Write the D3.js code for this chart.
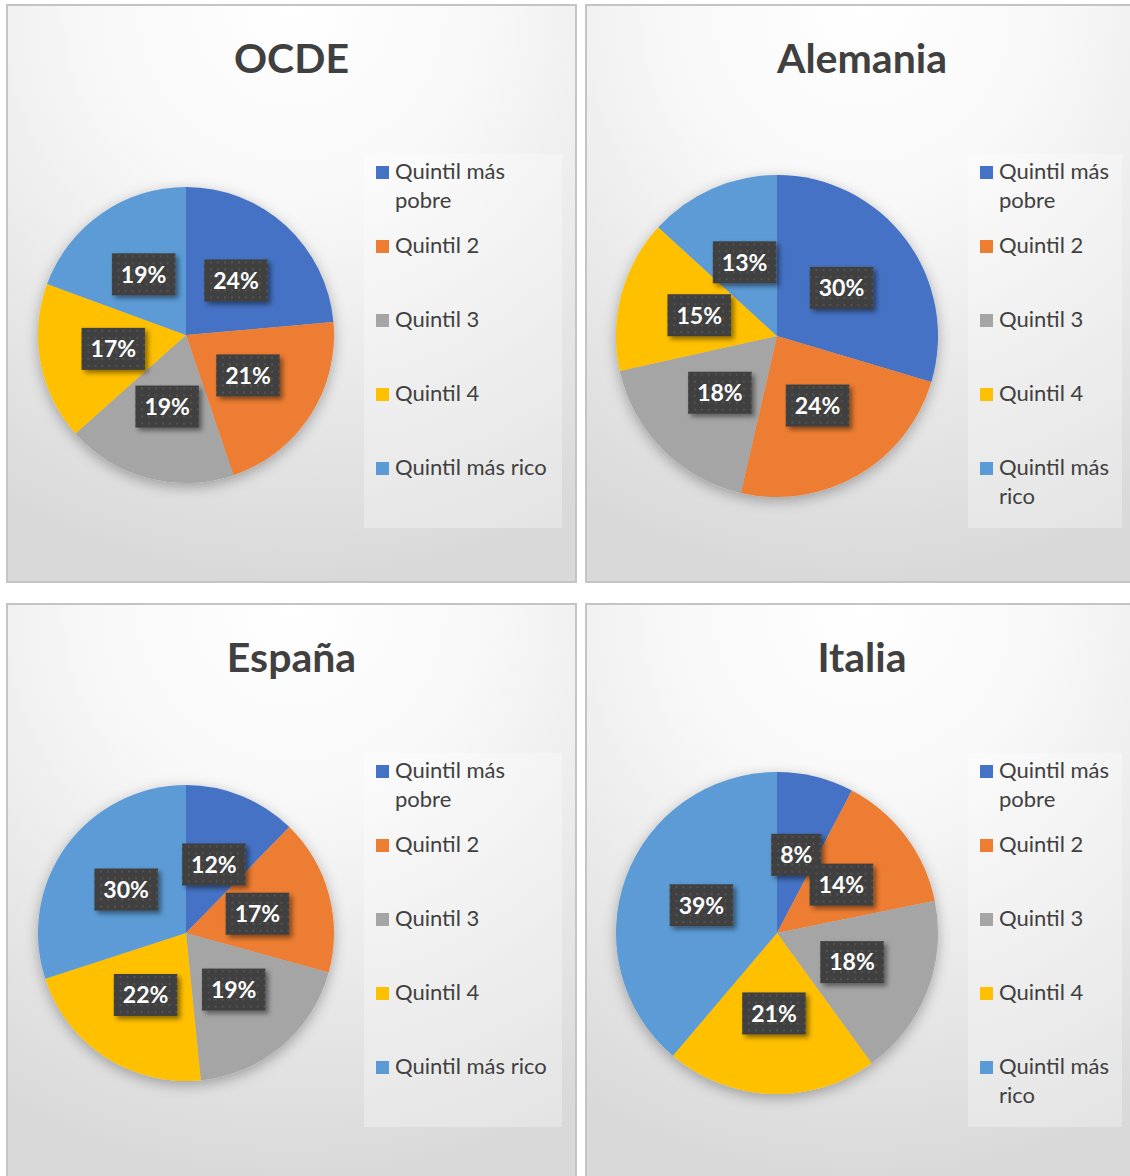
<!DOCTYPE html>
<html>
<head>
<meta charset="utf-8">
<script src="https://cdn.jsdelivr.net/npm/d3@7"></script>
<style>
  body { margin: 0; background: #fff; }
  svg { display: block; font-family: Lato, "Open Sans", sans-serif; }
</style>
</head>
<body>
<div class="chart"></div>
<script>
let categories = ["Quintil más pobre", "Quintil 2", "Quintil 3", "Quintil 4", "Quintil más rico"]
let titles = ["OCDE", "Alemania", "España", "Italia"]
// shares in %; labels show them rounded
let ocde = [23.6, 21.2, 18.6, 17.2, 19.4]
let alemania = [29.6, 24.0, 17.9, 15.3, 13.2]
let espana = [12.3, 17.0, 19.1, 21.6, 30.0]
let italia = [7.7, 14.1, 18.2, 21.2, 38.8]
let colors = ["#4472C4", "#ED7D31", "#A5A5A5", "#FFC000", "#5B9BD5"]

let width = 1130
let height = 1176

// panel boxes (two layouts, narrow legend on the right column)
let layoutLeft = { w: 569, h: 577, cx: 179, cy: 330, r: 148, lx: 357, lw: 198, mx: 369, tx: 388, wrap: 158 }
let layoutRight = { w: 552, h: 577, cx: 191, cy: 331, r: 161, lx: 382, lw: 154, mx: 394, tx: 413, wrap: 120 }

let panels = [
  { title: titles[0], values: ocde, x: 7, y: 5, lay: layoutLeft },
  { title: titles[1], values: alemania, x: 586, y: 5, lay: layoutRight },
  { title: titles[2], values: espana, x: 7, y: 604, lay: layoutLeft, dy: -1 },
  { title: titles[3], values: italia, x: 586, y: 604, lay: layoutRight, dy: -2 }
]

let svg = d3.select(".chart")
  .append("svg")
  .attr("width", width)
  .attr("height", height)

let defs = svg.append("defs")

let grad = defs.append("radialGradient")
  .attr("id", "bg")
  .attr("cx", 0.5).attr("cy", 0).attr("r", 1).attr("fx", 0.5).attr("fy", 0)
grad.append("stop").attr("offset", 0).attr("stop-color", "#ffffff")
grad.append("stop").attr("offset", 0.35).attr("stop-color", "#f8f8f8")
grad.append("stop").attr("offset", 1).attr("stop-color", "#d9d9d9")

let dots = defs.append("pattern")
  .attr("id", "dots")
  .attr("width", 7).attr("height", 7)
  .attr("patternUnits", "userSpaceOnUse")
dots.append("rect").attr("width", 7).attr("height", 7).attr("fill", "#404040")
dots.append("rect").attr("x", 2).attr("y", 2).attr("width", 2).attr("height", 2).attr("fill", "#525252")

let pieShadow = defs.append("filter").attr("id", "pieShadow")
  .attr("x", "-20%").attr("y", "-20%").attr("width", "140%").attr("height", "150%")
pieShadow.append("feDropShadow")
  .attr("dx", 0).attr("dy", 4).attr("stdDeviation", 7)
  .attr("flood-color", "#000").attr("flood-opacity", 0.3)

let labelShadow = defs.append("filter").attr("id", "labelShadow")
  .attr("x", "-30%").attr("y", "-30%").attr("width", "170%").attr("height", "180%")
labelShadow.append("feDropShadow")
  .attr("dx", 3).attr("dy", 3).attr("stdDeviation", 2.5)
  .attr("flood-color", "#000").attr("flood-opacity", 0.45)

let color = d3.scaleOrdinal(categories, colors)
let pie = d3.pie().sort(null)

let wrapWords = (text, maxWidth) => {
  text.each(function () {
    let t = d3.select(this)
    let words = t.text().split(" ")
    let x = t.attr("x")
    t.text(null)
    let line = []
    let tspan = t.append("tspan").attr("x", x).attr("dy", 0)
    words.forEach(w => {
      line.push(w)
      tspan.text(line.join(" "))
      if (tspan.node().getComputedTextLength() > maxWidth && line.length > 1) {
        line.pop()
        tspan.text(line.join(" "))
        line = [w]
        tspan = t.append("tspan").attr("x", x).attr("dy", 29).text(w)
      }
    })
  })
}

panels.forEach(p => {
  let lay = p.lay
  let g = svg.append("g").attr("transform", `translate(${p.x},${p.y})`)

  g.append("rect")
    .attr("width", lay.w)
    .attr("height", lay.h)
    .attr("fill", "url(#bg)")
    .attr("stroke", "#c4c4c4")
    .attr("stroke-width", 2)

  g.append("text")
    .attr("x", lay.w / 2)
    .attr("y", 68)
    .attr("text-anchor", "middle")
    .attr("font-size", 41)
    .attr("font-weight", "bold")
    .attr("fill", "#404040")
    .text(p.title)

  let arc = d3.arc().innerRadius(0).outerRadius(lay.r)
  let total = d3.sum(p.values)
  let arcs = pie(p.values)
    .map((a, i) => Object.assign(a, { name: categories[i] }))

  let pieG = g.append("g")
    .attr("transform", `translate(${lay.cx},${lay.cy + (p.dy || 0)})`)

  pieG.append("g")
    .attr("filter", "url(#pieShadow)")
    .selectAll("path")
    .data(arcs)
    .enter()
    .append("path")
    .attr("d", arc)
    .attr("fill", d => color(d.name))

  let labels = pieG.selectAll(".lab")
    .data(arcs)
    .enter()
    .append("g")
    .attr("class", "lab")
    .attr("transform", d => `translate(${arc.centroid(d)})`)

  labels.append("rect").attr("class", "box")
  labels.append("text")
    .attr("text-anchor", "middle")
    .attr("dy", "0.36em")
    .attr("font-size", 23)
    .attr("font-weight", "bold")
    .attr("fill", "#fff")
    .text(d => Math.round(d.value / total * 100) + "%")

  labels.each(function () {
    let l = d3.select(this)
    let tw = l.select("text").node().getComputedTextLength()
    l.select("rect")
      .attr("x", -tw / 2 - 9)
      .attr("y", -21)
      .attr("width", tw + 18)
      .attr("height", 42)
      .attr("fill", "url(#dots)")
      .attr("filter", "url(#labelShadow)")
  })

  // legend
  let leg = g.append("g")
  leg.append("rect")
    .attr("x", lay.lx)
    .attr("y", 149)
    .attr("width", lay.lw)
    .attr("height", 374)
    .attr("fill", "#ffffff")
    .attr("fill-opacity", 0.3)

  let items = leg.selectAll(".item")
    .data(categories)
    .enter()
    .append("g")
    .attr("class", "item")
    .attr("transform", (d, i) => `translate(0,${167 + 74 * i})`)

  items.append("rect")
    .attr("x", lay.mx)
    .attr("y", -6)
    .attr("width", 13)
    .attr("height", 13)
    .attr("fill", d => color(d))

  items.append("text")
    .attr("x", lay.tx)
    .attr("y", 7)
    .attr("font-size", 22)
    .attr("fill", "#404040")
    .text(d => d)
    .call(wrapWords, lay.wrap)
})
</script>
</body>
</html>
